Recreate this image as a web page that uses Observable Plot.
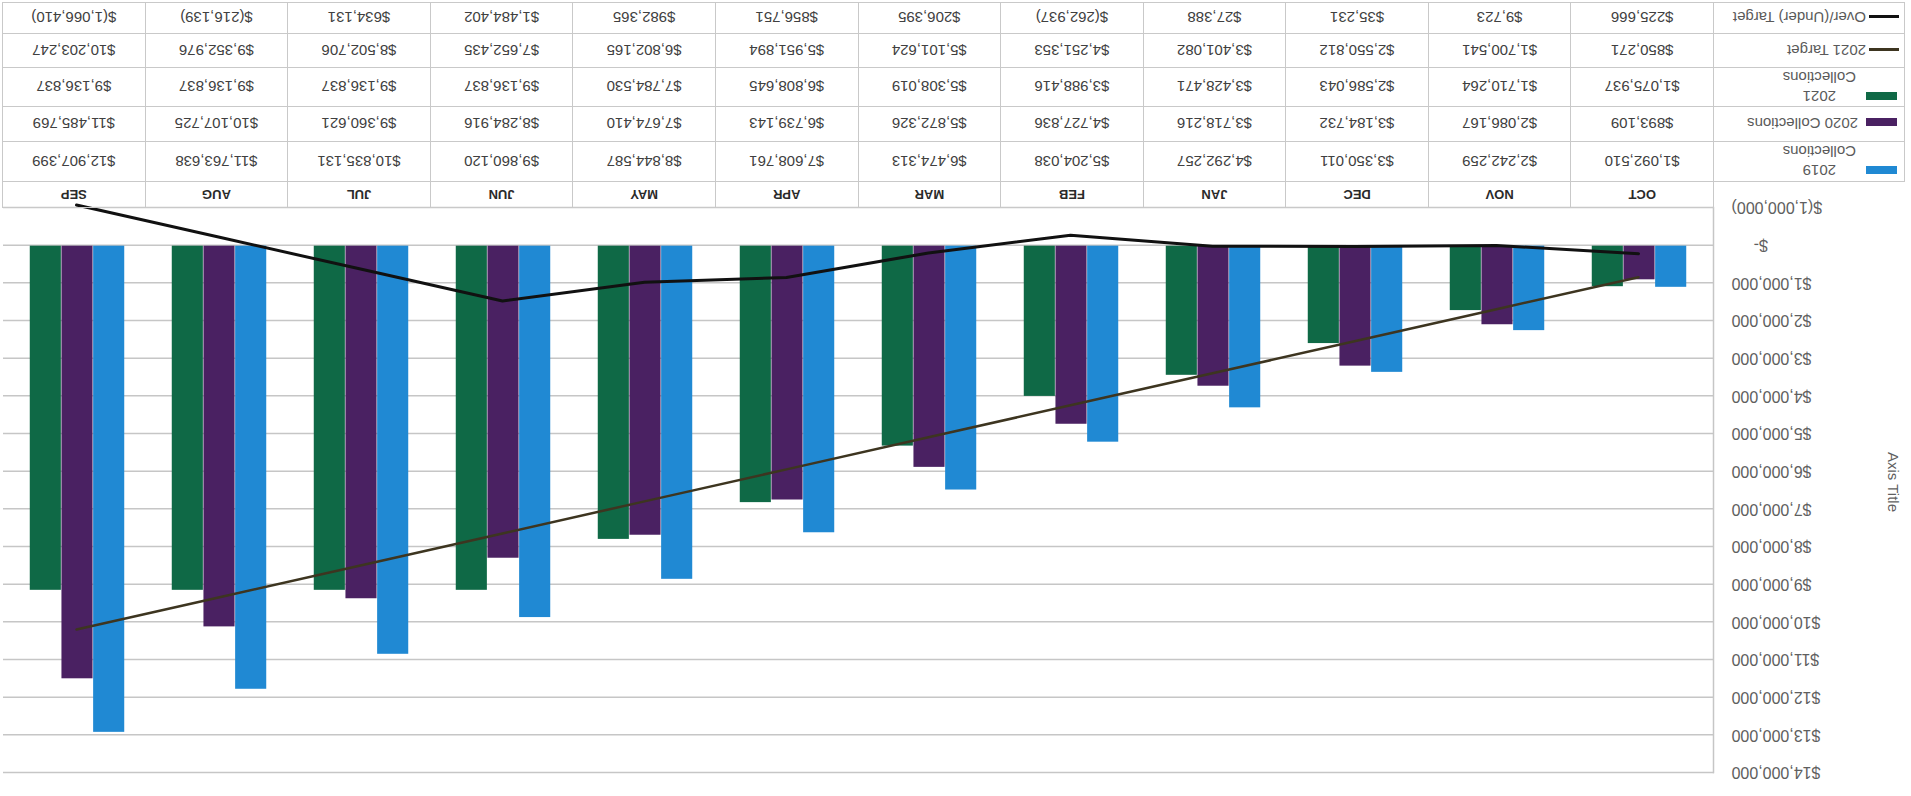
<!DOCTYPE html>
<html>
<head>
<meta charset="utf-8">
<script src="https://cdn.jsdelivr.net/npm/d3@7"></script>
<script src="https://cdn.jsdelivr.net/npm/@observablehq/plot@0.6"></script>
<style>
html, body { margin: 0; padding: 0; background: #fff; }
#root { position: relative; width: 1911px; height: 796px; transform: rotate(180deg); transform-origin: 50% 50%; overflow: hidden; background: #fff; font-family: "Liberation Sans", Arial, sans-serif; }
#chart { position: absolute; left: 0; top: 0; }
#tbl { position: absolute; left: 6px; top: 588px; border-collapse: collapse; table-layout: fixed; }
#tbl td { border: 1px solid #c9c9c9; padding: 0; text-align: center; vertical-align: middle; font-size: 15px; color: #404040; white-space: nowrap; }
#tbl td.month { font-size: 13px; color: #2a2a2a; font-weight: 600; }
#tbl td.blank { border-top: none; border-left: none; }
#tbl td.legend { text-align: left; color: #5a5a5a; }
.lg { display: flex; align-items: flex-start; }
.sw { flex: none; }
.two { display: inline-block; text-align: center; line-height: 19px; }
</style>
</head>
<body>
<div id="root"><div id="chart"></div><table id="tbl"></table></div>
<script>
// ---- data ----
const months = ["OCT","NOV","DEC","JAN","FEB","MAR","APR","MAY","JUN","JUL","AUG","SEP"];
const collections2019 = [1092510, 2242259, 3350011, 4292257, 5204038, 6474313, 7608761, 8844587, 9860120, 10835131, 11763638, 12907399];
const collections2020 = [893109, 2086167, 3184732, 3718216, 4727836, 5872326, 6739143, 7674410, 8284916, 9360621, 10107725, 11485769];
const collections2021 = [1075937, 1710264, 2586043, 3428471, 3988416, 5308019, 6808645, 7784530, 9136837, 9136837, 9136837, 9136837];
const target2021 = [850271, 1700541, 2550812, 3401082, 4251353, 5101624, 5951894, 6802165, 7652435, 8502706, 9352976, 10203247];
const overUnderTarget = [225666, 9723, 35231, 27388, -262937, 206395, 856751, 982365, 1484402, 634131, -216139, -1066410];
const yTicks = [-1000000, 0, 1000000, 2000000, 3000000, 4000000, 5000000, 6000000, 7000000, 8000000, 9000000, 10000000, 11000000, 12000000, 13000000, 14000000];
const yTitle = "Axis Title";
const seriesLabels = {c19: "2019 Collections", c20: "2020 Collections", c21: "2021 Collections", target: "2021 Target", ou: "Over/(Under) Target"};

// ---- styles ----
const colBlue = "#2089d3", colPurple = "#4a2162", colGreen = "#0f6946";
const colTarget = "#3d3520", colOU = "#111111";

const num = d3.format(",");
function acct(v) {
  if (v === 0) return "$-";
  if (v < 0) return "$(" + num(-v) + ")";
  return "$" + num(v);
}
// axis labels: accounting style keeps the dash away from the right edge
function acctAxis(v) {
  return v === 0 ? "$-\u00A0\u00A0\u00A0\u00A0\u00A0" : acct(v);
}

const rows = months.map((m, i) => ({
  month: m, c19: collections2019[i], c20: collections2020[i], c21: collections2021[i],
  target: target2021[i], ou: overUnderTarget[i]
}));

const W = 1911, H = 600, ML = 197, MR = 3, MT = 23, MB = 12;
const bw = (W - ML - MR) / months.length;
const barW = bw / 4.5;
const inset = (bw - barW) / 2;

const chart = Plot.plot({
  width: W, height: H,
  marginLeft: ML, marginRight: MR, marginTop: MT, marginBottom: MB,
  style: {fontFamily: '"Liberation Sans", Arial, sans-serif', background: "transparent", color: "#595959"},
  x: {type: "band", domain: months, padding: 0, axis: null},
  y: {domain: [-1000000, 14000000], axis: null},
  marks: [
    Plot.gridY(yTicks, {stroke: "#c6c6c6", strokeOpacity: 1, strokeWidth: 1.5}),
    Plot.axisY(yTicks, {tickSize: 0, tickPadding: 18, tickFormat: acctAxis, fontSize: 16, fill: "#5f5f5f", label: null}),
    Plot.frame({anchor: "left", stroke: "#c6c6c6", strokeWidth: 1.5}),
    Plot.barY(rows, {x: "month", y: "c19", fill: colBlue, insetLeft: inset, insetRight: inset, dx: -barW}),
    Plot.barY(rows, {x: "month", y: "c20", fill: colPurple, insetLeft: inset, insetRight: inset}),
    Plot.barY(rows, {x: "month", y: "c21", fill: colGreen, insetLeft: inset, insetRight: inset, dx: barW}),
    Plot.line(rows, {x: "month", y: "target", stroke: colTarget, strokeWidth: 2.5, strokeLinejoin: "round"}),
    Plot.line(rows, {x: "month", y: "ou", stroke: colOU, strokeWidth: 3, strokeLinejoin: "round"}),
    Plot.text([yTitle], {frameAnchor: "left", dx: -179, dy: 38, rotate: -90, fontSize: 15, fill: "#5f5f5f"})
  ]
});
document.getElementById("chart").appendChild(chart);

// ---- data table below the plot ----
const tbl = document.getElementById("tbl");
const cg = document.createElement("colgroup");
const c0 = document.createElement("col"); c0.style.width = "191px"; cg.appendChild(c0);
months.forEach(() => { const c = document.createElement("col"); c.style.width = bw + "px"; cg.appendChild(c); });
tbl.appendChild(cg);

function addRow(height, legendHTML, cells, cls) {
  const tr = document.createElement("tr");
  tr.style.height = height + "px";
  const td0 = document.createElement("td");
  if (legendHTML === null) { td0.className = "blank"; } else { td0.className = "legend"; td0.innerHTML = legendHTML; }
  tr.appendChild(td0);
  cells.forEach(t => { const td = document.createElement("td"); td.textContent = t; if (cls) td.className = cls; tr.appendChild(td); });
  tbl.appendChild(tr);
}
const barSw = c => `<span class="sw" style="width:31px;height:8px;background:${c};margin:6px 0 0 7px;"></span>`;
const lineSw = c => `<span class="sw" style="width:30px;height:3px;background:${c};margin:8px 0 0 5px;"></span>`;
function twoLine(label) { const p = label.split(" "); return `<span class="two" style="margin-left:10px">${p[0]}<br>${p.slice(1).join(" ")}</span>`; }

addRow(26, null, months, "month");
addRow(40, `<div class="lg">${barSw(colBlue)}${twoLine(seriesLabels.c19)}</div>`, collections2019.map(acct));
addRow(35, `<div class="lg">${barSw(colPurple)}<span style="margin-left:8px">${seriesLabels.c20}</span></div>`, collections2020.map(acct));
addRow(39, `<div class="lg">${barSw(colGreen)}${twoLine(seriesLabels.c21)}</div>`, collections2021.map(acct));
addRow(34, `<div class="lg">${lineSw(colTarget)}<span style="margin-left:3px">${seriesLabels.target}</span></div>`, target2021.map(acct));
addRow(31, `<div class="lg">${lineSw(colOU)}<span style="margin-left:3px">${seriesLabels.ou}</span></div>`, overUnderTarget.map(acct));
</script>
</body>
</html>
